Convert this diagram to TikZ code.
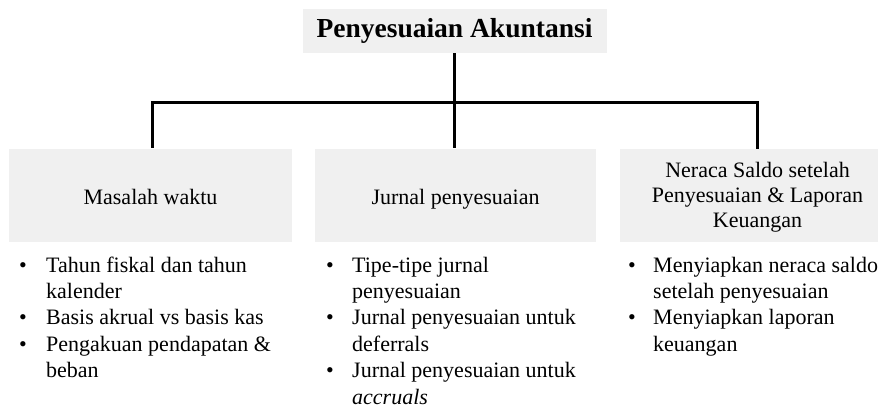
\documentclass[tikz,border=0pt]{standalone}
\usepackage{fontspec}
\setmainfont{Liberation Serif}
\definecolor{boxgray}{RGB}{240,240,240}
\begin{document}
\begin{tikzpicture}[x=1pt,y=-1pt,
  headbox/.style={fill=boxgray, inner sep=0pt, font=\fontsize{27.5}{31}\selectfont\bfseries},
  topicbox/.style={fill=boxgray, inner sep=0pt, minimum height=93pt},
  boxtext/.style={align=center, inner sep=0pt, font=\fontsize{22}{25}\selectfont},
  itemline/.style={inner sep=0pt, anchor=base west, font=\fontsize{22}{26.4}\selectfont},
  dot/.style={inner sep=0pt, anchor=base, font=\fontsize{22}{26.4}\selectfont},
  link/.style={line width=3pt, line join=miter}
]
\useasboundingbox (0,0) rectangle (882,407);

% heading
\node[headbox, minimum width=304pt, minimum height=44pt] (title) at (454.5,31) {Penyesuaian Akuntansi};

% three topic boxes
\node[topicbox, minimum width=283pt] (boxL) at (150.5,195.5) {};
\node[topicbox, minimum width=281pt] (boxM) at (455.5,195.5) {};
\node[topicbox, minimum width=258pt] (boxR) at (749,195.5) {};

\node[boxtext, anchor=base] (txtL) at (150.5,204) {Masalah waktu};
\node[boxtext, anchor=base] (txtM) at (455.5,204) {Jurnal penyesuaian};
\node[boxtext] (txtR) at (757.5,197) {Neraca Saldo setelah\\Penyesuaian \& Laporan\\Keuangan};

% tree connectors
\coordinate (hL) at (152.5,102.5);
\coordinate (hR) at (757.5,102.5);
\draw[link, shorten <=1pt] (hL |- boxL.north) -- (hL) -- (hR) -- (hR |- boxR.north);
\draw[link, shorten >=1pt] (title.south) -- (title.south |- boxM.north);

% bullet lists, one line per node
\foreach \t [count=\i] in {Tahun fiskal dan tahun, kalender, Basis akrual vs basis kas, Pengakuan pendapatan \&, beban}
  \node[itemline] (lineL\i) at (46,{272+26.4*(\i-1)}) {\t};
\foreach \r [count=\i] in {0,2,3}
  \node[dot] (bulL\i) at (23,{272+26.4*\r}) {\textbullet};

\foreach \t [count=\i] in {Tipe-tipe jurnal, penyesuaian, Jurnal penyesuaian untuk, deferrals, Jurnal penyesuaian untuk, \textit{accruals}}
  \node[itemline] (lineM\i) at (352,{272+26.4*(\i-1)}) {\t};
\foreach \r [count=\i] in {0,2,4}
  \node[dot] (bulM\i) at (330,{272+26.4*\r}) {\textbullet};

\foreach \t [count=\i] in {Menyiapkan neraca saldo, setelah penyesuaian, Menyiapkan laporan, keuangan}
  \node[itemline] (lineR\i) at (653,{272+26.4*(\i-1)}) {\t};
\foreach \r [count=\i] in {0,2}
  \node[dot] (bulR\i) at (632,{272+26.4*\r}) {\textbullet};
\end{tikzpicture}
\end{document}
